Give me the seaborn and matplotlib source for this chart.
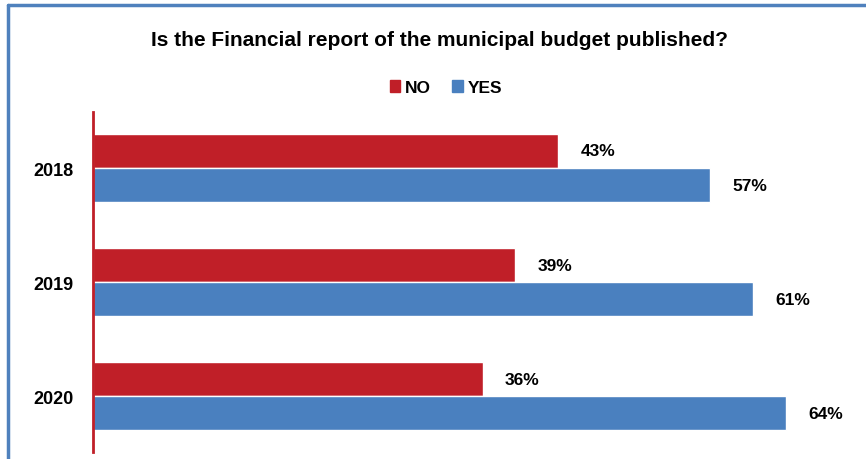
import pandas as pd
import matplotlib
matplotlib.use("Agg")
import matplotlib.pyplot as plt
from matplotlib.lines import Line2D
import seaborn as sns

# values
years = ["2018", "2019", "2020"]
no_pct = [43, 39, 36]
yes_pct = [57, 61, 64]
answers = ["NO", "YES"]
colors = {"NO": "#C01F28", "YES": "#4A80BF"}

df = pd.DataFrame({
    "year": years * 2,
    "answer": ["NO"] * 3 + ["YES"] * 3,
    "pct": no_pct + yes_pct,
})

sns.set_style("white")
plt.rcParams["font.family"] = ["Liberation Sans", "DejaVu Sans"]
plt.rcParams["font.weight"] = "bold"
plt.rcParams["text.color"] = "black"

fig = plt.figure(figsize=(8.66, 4.60), dpi=100)
ax = fig.add_axes([0.1074, 0.015, 0.875, 0.739])

sns.barplot(data=df, y="year", x="pct", hue="answer", hue_order=answers,
            palette=colors, saturation=1, orient="h", width=0.6,
            edgecolor="white", linewidth=1, ax=ax, legend=False)

# percentage labels to the right of each bar
for cont in ax.containers:
    ax.bar_label(cont, labels=[f"{v:.0f}%" for v in cont.datavalues],
                 padding=16, fontsize=12.5, fontweight="bold", color="black")

ax.set_xlim(0, 70)
ax.set_ylim(2.49, -0.49)
ax.set_xlabel("")
ax.set_ylabel("")
ax.set_xticks([])
ax.tick_params(axis="y", length=0, pad=14, labelsize=13, labelcolor="black")
for lab in ax.get_yticklabels():
    lab.set_fontweight("bold")
for side in ["top", "right", "bottom"]:
    ax.spines[side].set_visible(False)
ax.spines["left"].set_color("#C01F28")
ax.spines["left"].set_linewidth(2)

# legend
handles = [plt.Rectangle((0, 0), 1, 1, color=colors[a]) for a in answers]
fig.legend(handles, answers, loc="center", bbox_to_anchor=(0.515, 0.808),
           ncol=2, frameon=False, handlelength=0.6, handleheight=0.7,
           handletextpad=0.3, columnspacing=1.2,
           prop={"weight": "bold", "size": 12.5})

fig.text(0.508, 0.913, "Is the Financial report of the municipal budget published?",
         ha="center", va="center", fontsize=15, fontweight="bold", color="black")

# outer frame of the original chart
frame = "#4F81BD"
fig.add_artist(Line2D([8 / 866, 1], [1 - 6 / 460, 1 - 6 / 460], color=frame, lw=2.5))
fig.add_artist(Line2D([8 / 866, 8 / 866], [0, 1 - 6 / 460], color=frame, lw=2.5))

fig.savefig("out.png", dpi=100)
